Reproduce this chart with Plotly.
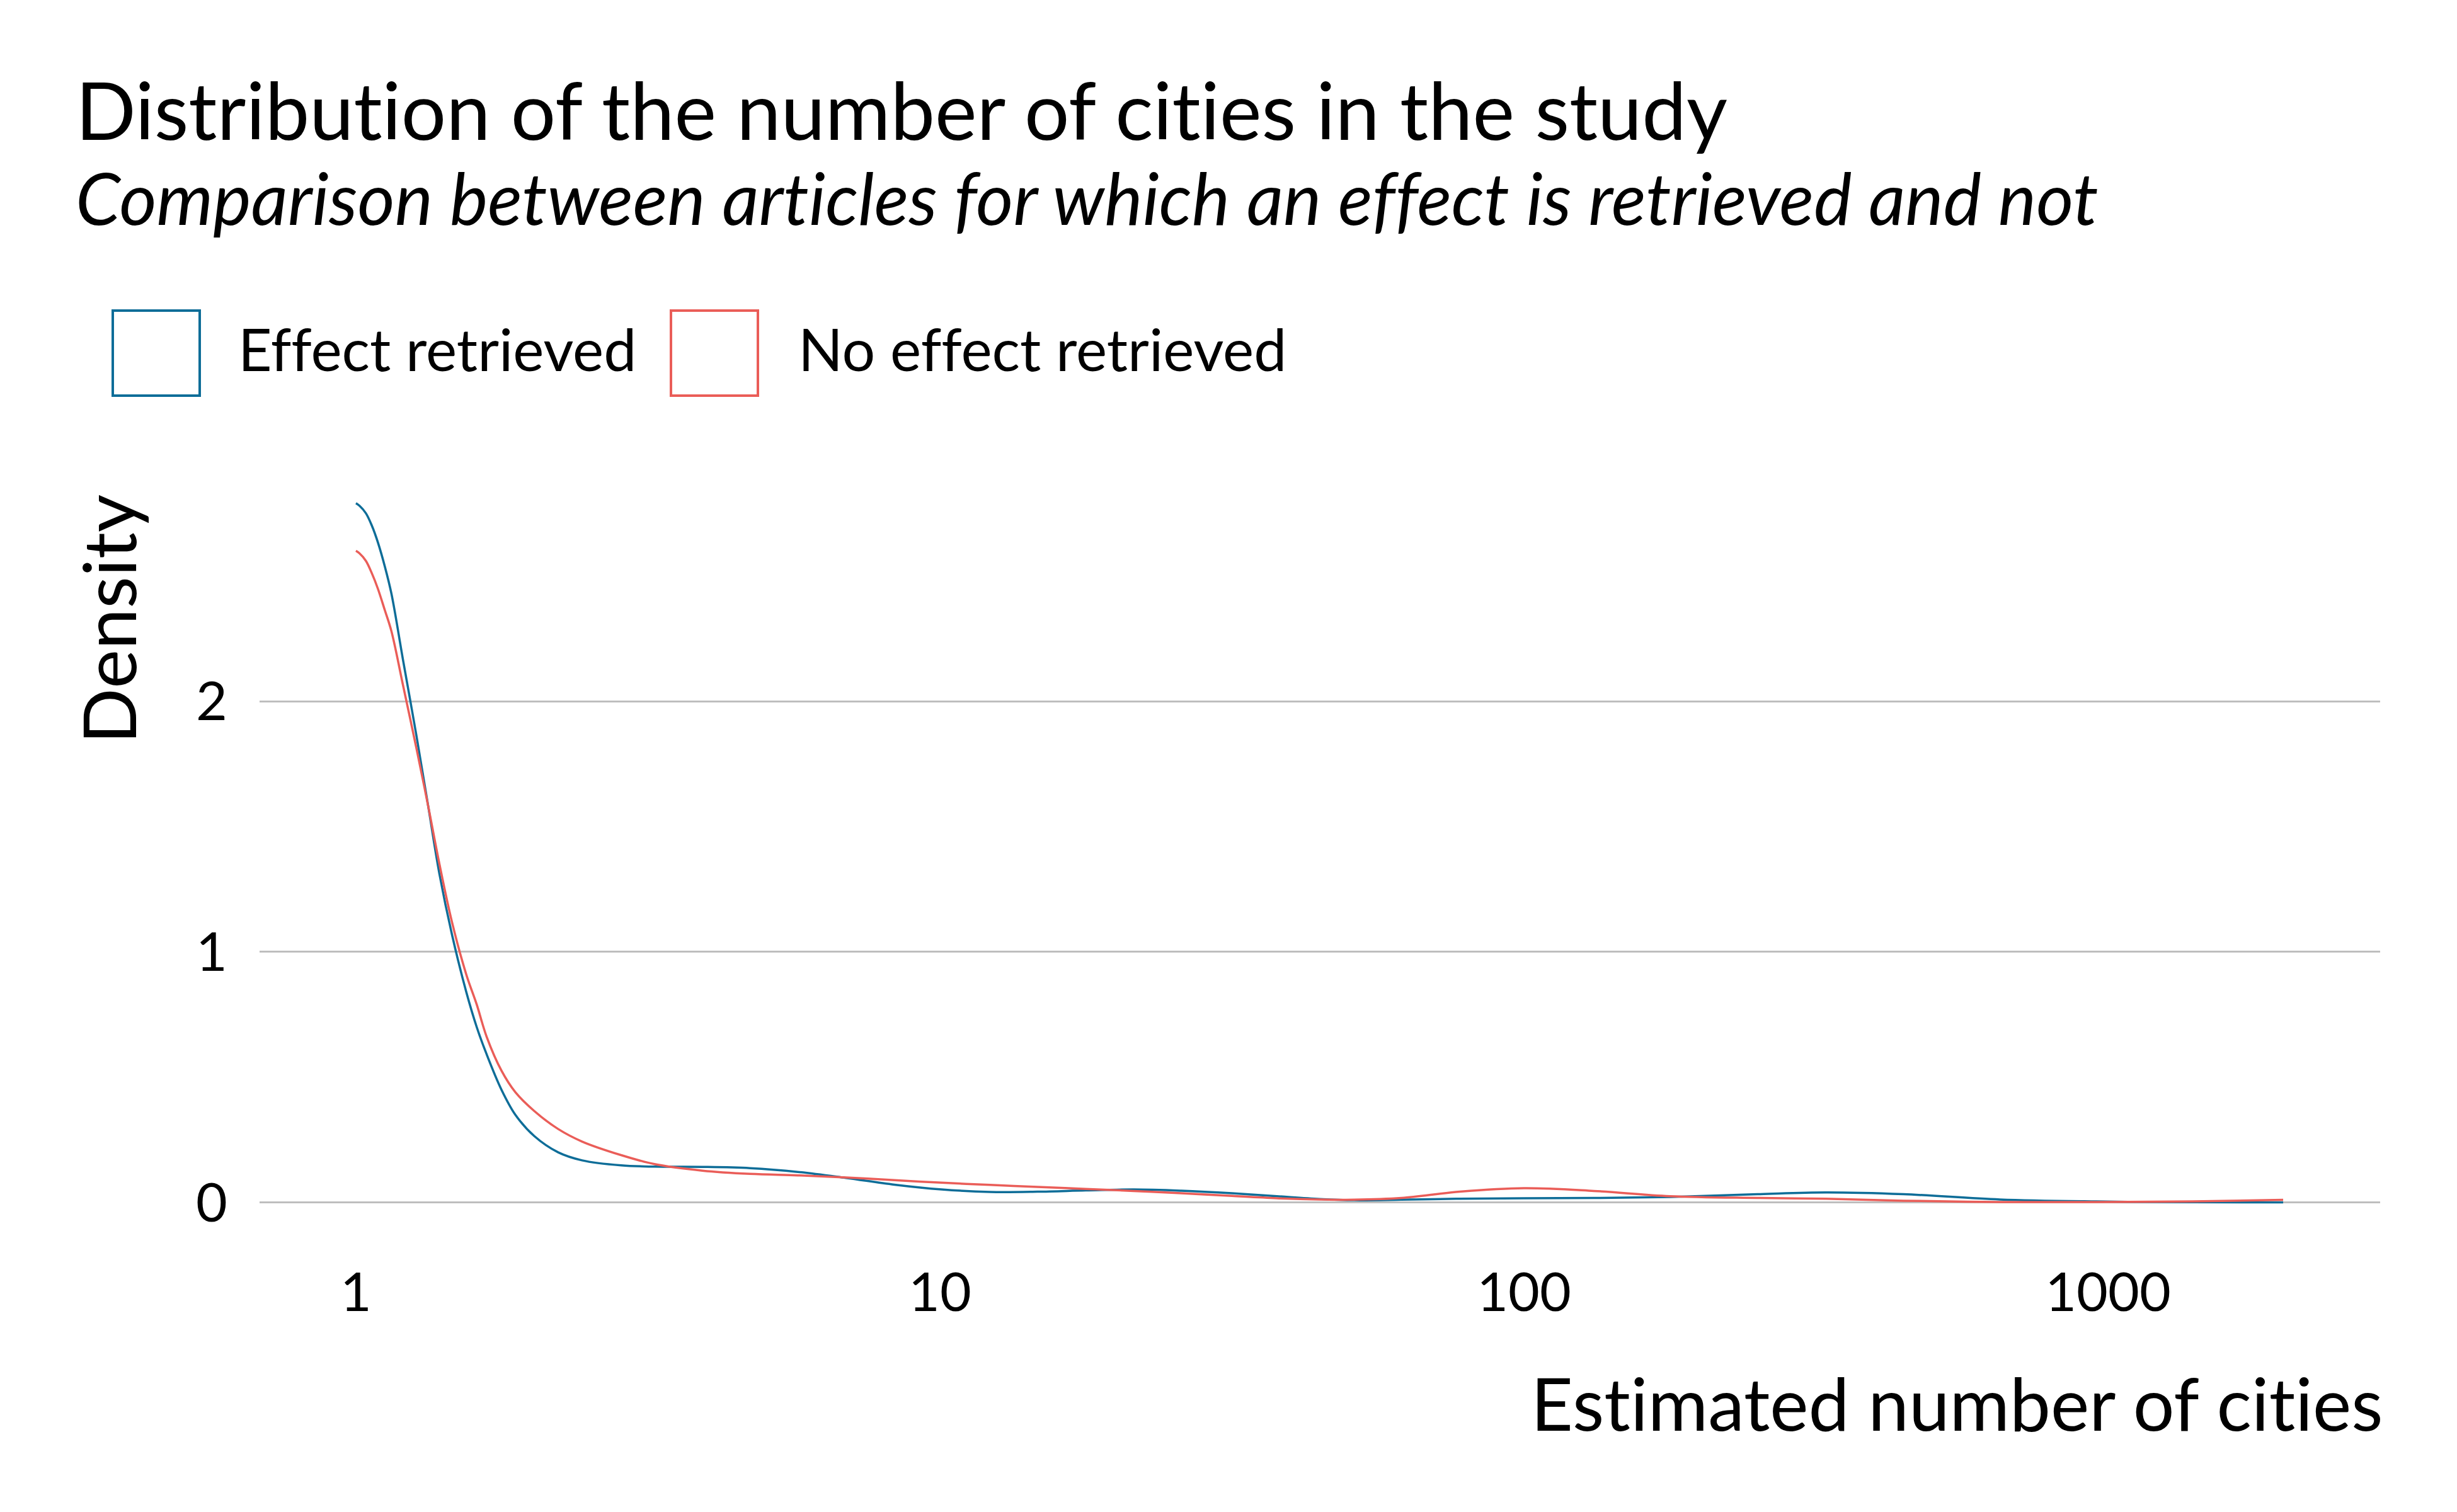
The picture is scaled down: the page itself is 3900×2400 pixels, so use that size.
import plotly.graph_objects as go

# ---- data (x = estimated number of cities, y = density on log10 scale) ----
cities = [1.0, 1.014, 1.04, 1.065, 1.09, 1.12, 1.15, 1.205, 1.27, 1.33, 1.39, 1.46, 1.545, 1.61,
          1.675, 1.775, 1.875, 2.02, 2.22, 2.44, 2.845, 3.245, 3.92, 4.73, 5.71, 6.9, 8.36,
          10.07, 12.19, 14.69, 17.78, 21.48, 25.88, 31.62, 37.76, 44.67, 51.17, 61.66, 77.62,
          100, 131.8, 177.8, 251.2, 328.9, 446.7, 653.1, 955, 1396, 1995]

effect_density = [2.79, 2.78, 2.75, 2.70, 2.635, 2.54, 2.43, 2.16, 1.86, 1.58, 1.31, 1.07, 0.84,
                  0.70, 0.59, 0.45, 0.35, 0.265, 0.20, 0.168, 0.148, 0.143, 0.142, 0.137, 0.122,
                  0.098, 0.071, 0.052, 0.042, 0.043, 0.048, 0.052, 0.047, 0.037, 0.025, 0.014,
                  0.009, 0.011, 0.015, 0.017, 0.018, 0.022, 0.033, 0.040, 0.033, 0.012, 0.004,
                  0.001, 0.0005]

no_effect_density = [2.60, 2.59, 2.56, 2.51, 2.45, 2.365, 2.28, 2.06, 1.81, 1.58, 1.35, 1.12, 0.91,
                     0.79, 0.66, 0.526, 0.44, 0.365, 0.293, 0.243, 0.189, 0.153, 0.127, 0.114,
                     0.108, 0.100, 0.089, 0.079, 0.070, 0.062, 0.054, 0.046, 0.037, 0.026, 0.017,
                     0.012, 0.011, 0.018, 0.043, 0.057, 0.046, 0.025, 0.018, 0.015, 0.007, 0.002,
                     0.002, 0.004, 0.0105]

series_names = ["Effect retrieved", "No effect retrieved"]
series_colors = ["#0E6D98", "#EA5D58"]

x_tick_vals = [1, 10, 100, 1000]
x_tick_text = ["1", "10", "100", "1000"]
y_tick_vals = [0, 1, 2]
y_tick_text = ["0", "1", "2"]

title_text = "Distribution of the number of cities in the study"
subtitle_text = "Comparison between articles for which an effect is retrieved and not"
x_title = "Estimated number of cities"
y_title = "Density"

# ---- layout geometry (pixels) ----
W, H = 3900, 2400
PL, PR, PT, PB = 404, 3770, 739, 1956
FONT = "Lato"


def px(x):
    return (x - PL) / (PR - PL)


def py(y):
    return (PB - y) / (PB - PT)


def nolig(s):
    return '<span style="font-variant-ligatures:none;font-feature-settings:\'liga\' 0">' + s + "</span>"


fig = go.Figure()
for name, vals, col in zip(series_names, [effect_density, no_effect_density], series_colors):
    fig.add_trace(go.Scatter(x=cities, y=vals, mode="lines", name=name,
                             line=dict(color=col, width=3.5, shape="spline", smoothing=1.0),
                             showlegend=False))

annotations = [
    dict(text=nolig(title_text), x=px(110), y=py(165), xanchor="left", yanchor="middle",
         font=dict(size=126, color="black", family=FONT)),
    dict(text=nolig("<i>" + subtitle_text + "</i>"), x=px(110), y=py(305), xanchor="left",
         yanchor="middle", font=dict(size=114, color="black", family=FONT)),
    dict(text=nolig(y_title), x=px(163), y=py(975), xanchor="center", yanchor="middle", textangle=-90,
         font=dict(size=117, color="black", family=FONT)),
    dict(text=nolig(x_title), x=px(3777), y=py(2218), xanchor="right", yanchor="middle",
         font=dict(size=116, color="black", family=FONT)),
]

legend_boxes = [(171, 309), (1057, 1195)]
legend_text_x = [368, 1257]
shapes = []
for (x0, x1), tx, name, col in zip(legend_boxes, legend_text_x, series_names, series_colors):
    shapes.append(dict(type="rect", xref="paper", yref="paper", x0=px(x0), x1=px(x1),
                       y0=py(620), y1=py(485), line=dict(color=col, width=4), fillcolor="white"))
    annotations.append(dict(text=nolig(name), x=px(tx), y=py(545), xanchor="left", yanchor="middle",
                            font=dict(size=93, color="black", family=FONT)))

for a in annotations:
    a.update(xref="paper", yref="paper", showarrow=False)

fig.update_layout(
    width=W, height=H,
    margin=dict(l=PL, r=W - PR, t=PT, b=H - PB, pad=0),
    paper_bgcolor="white", plot_bgcolor="white",
    font=dict(family=FONT, color="black"),
    annotations=annotations, shapes=shapes,
    showlegend=False,
)
fig.update_xaxes(type="log", range=[-0.165, 3.466], tickvals=x_tick_vals, ticktext=x_tick_text,
                 showgrid=False, zeroline=False, showline=False, ticks="",
                 tickfont=dict(size=86, color="black", family=FONT), ticklabelstandoff=30)
fig.update_yaxes(range=[-0.139, 2.92], tickvals=y_tick_vals, ticktext=y_tick_text,
                 showgrid=True, gridcolor="#BEBEBE", gridwidth=3, zeroline=False, showline=False,
                 ticks="", tickfont=dict(size=86, color="black", family=FONT), ticklabelstandoff=50)

fig.write_html("out.html")
